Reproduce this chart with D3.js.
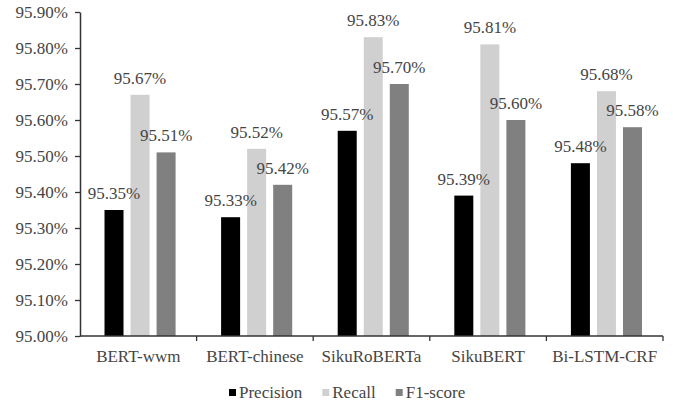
<!DOCTYPE html>
<html>
<head>
<meta charset="utf-8">
<script src="https://cdn.jsdelivr.net/npm/d3@7"></script>
<style>
  html, body { margin: 0; padding: 0; background: #fff; }
  svg { display: block; }
</style>
</head>
<body>
<svg id="chart" width="673" height="405"></svg>
<script>
const categories = ["BERT-wwm", "BERT-chinese", "SikuRoBERTa", "SikuBERT", "Bi-LSTM-CRF"];
const seriesNames = ["Precision", "Recall", "F1-score"];
const precision = [95.35, 95.33, 95.57, 95.39, 95.48];
const recall    = [95.67, 95.52, 95.83, 95.81, 95.68];
const f1score   = [95.51, 95.42, 95.70, 95.60, 95.58];
const yTicks = [95.00, 95.10, 95.20, 95.30, 95.40, 95.50, 95.60, 95.70, 95.80, 95.90];
const colors = ["#000000", "#d0d0d0", "#808080"];

const seriesValues = [precision, recall, f1score];
const FONT = "'Liberation Serif', 'Times New Roman', Times, serif";

const svg = d3.select("#chart");
const mLeft = 80, mRight = 663, mTop = 12, mBottom = 336;

const x = d3.scaleBand().domain(categories).range([mLeft, mRight]).padding(0);
const bw = x.bandwidth();
const x1 = d3.scaleBand().domain(seriesNames).range([bw * 0.18, bw * 0.85]).paddingInner(0.27).paddingOuter(0.135);
const y = d3.scaleLinear().domain([95.0, 95.9]).range([mBottom, mTop]);

// bars
const groups = svg.append("g").selectAll("g")
  .data(categories).join("g")
  .attr("transform", d => `translate(${x(d)},0)`);

groups.selectAll("rect")
  .data((d, i) => seriesNames.map((s, j) => ({ s, j, v: seriesValues[j][i] })))
  .join("rect")
  .attr("x", d => x1(d.s))
  .attr("width", x1.bandwidth())
  .attr("y", d => y(d.v))
  .attr("height", d => mBottom - y(d.v))
  .attr("fill", d => colors[d.j]);

// y axis
const yAxis = d3.axisLeft(y).tickValues(yTicks)
  .tickFormat(d => d.toFixed(2) + "%")
  .tickSizeInner(5).tickSizeOuter(0).tickPadding(7);
const yg = svg.append("g").attr("transform", `translate(${mLeft},0)`).call(yAxis);
yg.attr("font-family", null).attr("font-size", null);
yg.select(".domain").attr("stroke", "#333").attr("stroke-width", 1.5);
yg.selectAll(".tick line").attr("stroke", "#333").attr("stroke-width", 1.3);
yg.selectAll(".tick text").style("font-size", "17px").attr("fill", "#454545")
  .style("font-family", FONT);

// x axis line
svg.append("line").attr("x1", mLeft).attr("x2", mRight).attr("y1", mBottom).attr("y2", mBottom)
  .attr("stroke", "#333").attr("stroke-width", 1.5);
const boundaries = categories.slice(1).map(c => x(c)).concat([mRight]);
svg.append("g").selectAll("line").data(boundaries).join("line")
  .attr("x1", d => d).attr("x2", d => d).attr("y1", mBottom).attr("y2", mBottom + 5)
  .attr("stroke", "#333").attr("stroke-width", 1.3);

// category labels
svg.append("g").selectAll("text").data(categories).join("text")
  .attr("x", d => x(d) + bw / 2)
  .attr("y", 362)
  .attr("text-anchor", "middle")
  .style("font-size", "17px")
  .style("font-family", FONT)
  .attr("fill", "#454545")
  .text(d => d);

// value labels
groups.selectAll("text.val")
  .data((d, i) => seriesNames.map((s, j) => ({ s, j, v: seriesValues[j][i] })))
  .join("text")
  .attr("class", "val")
  .attr("x", d => x1(d.s) + x1.bandwidth() / 2)
  .attr("y", d => y(d.v) - 11)
  .attr("text-anchor", "middle")
  .style("font-size", "17px")
  .style("font-family", FONT)
  .attr("fill", "#454545")
  .text(d => d.v.toFixed(2) + "%");

// legend
const lg = svg.append("g");
let lx = 229;
seriesNames.forEach((s, j) => {
  lg.append("rect").attr("x", lx).attr("y", 389).attr("width", 7).attr("height", 7).attr("fill", colors[j]);
  const t = lg.append("text").attr("x", lx + 10).attr("y", 398)
    .style("font-size", "17px").style("font-family", FONT).attr("fill", "#454545").text(s);
  lx += 10 + t.node().getComputedTextLength() + 20;
});
</script>
</body>
</html>
